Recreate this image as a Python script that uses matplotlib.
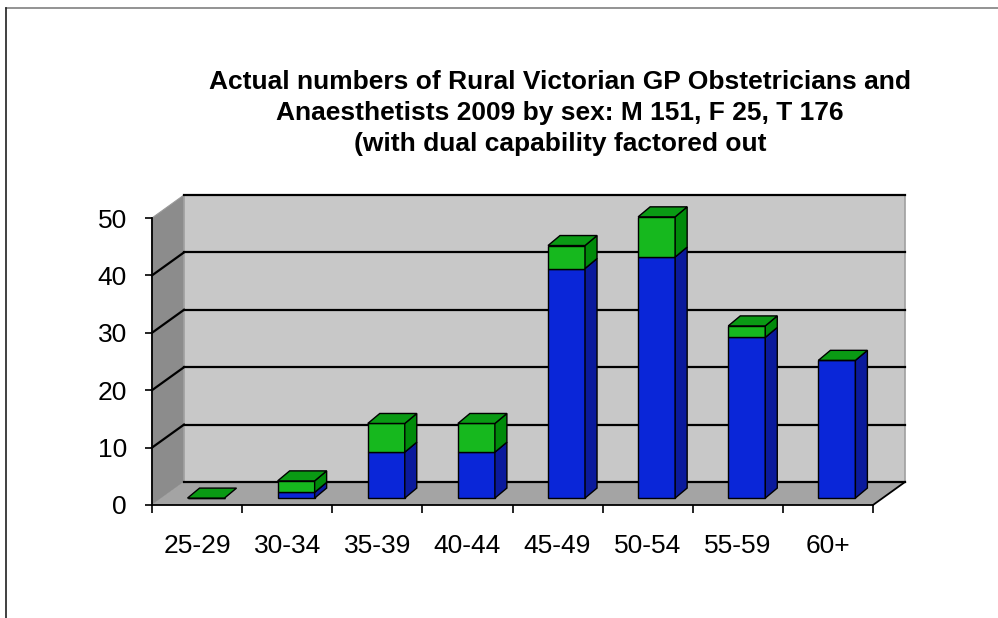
import matplotlib
matplotlib.use("Agg")
import matplotlib.pyplot as plt
from matplotlib.patches import Polygon
from matplotlib.lines import Line2D

categories = ['25-29', '30-34', '35-39', '40-44', '45-49', '50-54', '55-59', '60+']
male = [0, 1, 8, 8, 40, 42, 28, 24]
female = [0, 2, 5, 5, 4, 7, 2, 0]
y_ticks = [0, 10, 20, 30, 40, 50]
title_lines = ["Actual numbers of Rural Victorian GP Obstetricians and",
               "Anaesthetists 2009 by sex: M 151, F 25, T 176",
               "(with dual capability factored out"]

plt.rcParams['font.family'] = ['Liberation Sans', 'DejaVu Sans']

W, H = 998, 618
fig = plt.figure(figsize=(W / 100, H / 100), dpi=100)
fig.patch.set_facecolor('white')

# front plane axes
L, R, B, T = 152, 873, 505, 218
ax = fig.add_axes([L / W, (H - B) / H, (R - L) / W, (B - T) / H])
ax.set_xlim(0, 8)
ax.set_ylim(0, 50)
ax.patch.set_visible(False)

pxx = (R - L) / 8.0
pxy = (B - T) / 50.0
Dx, Dy = 32 / pxx, 23 / pxy          # full depth
ox, oy = 0.28 * Dx, 0.30 * Dy        # bar front face offset
bdx, bdy = 12 / pxx, 10 / pxy        # bar depth
bw = 37 / pxx

wall_back = '#c8c8c8'
wall_left = '#8c8c8c'
floor_c = '#a4a4a4'

# walls
ax.add_patch(Polygon([(0, 0), (0, 50), (Dx, 50 + Dy), (Dx, Dy)], closed=True,
                     facecolor=wall_left, edgecolor='#9a9a9a', lw=0.8, clip_on=False, zorder=0))
ax.add_patch(Polygon([(Dx, Dy), (8 + Dx, Dy), (8 + Dx, 50 + Dy), (Dx, 50 + Dy)], closed=True,
                     facecolor=wall_back, edgecolor='#a0a0a0', lw=1.2, clip_on=False, zorder=0))
ax.add_patch(Polygon([(0, 0), (8, 0), (8 + Dx, Dy), (Dx, Dy)], closed=True,
                     facecolor=floor_c, edgecolor='none', lw=0, clip_on=False, zorder=0))
# floor right edge
ax.add_line(Line2D([8, 8 + Dx], [0, Dy], color='black', lw=1.3, clip_on=False, zorder=1))

# gridlines
for v in y_ticks:
    ax.add_line(Line2D([Dx, 8 + Dx], [v + Dy, v + Dy], color='black', lw=1.6,
                       clip_on=False, zorder=1))
    if 0 < v < 50:
        ax.add_line(Line2D([0, Dx], [v, v + Dy], color='black', lw=1.6,
                           clip_on=False, zorder=1))

blue_f, blue_s = '#0a26d8', '#0a1a9c'
green_f, green_s, green_t = '#16b81e', '#008a0a', '#0a9a14'
ec, elw = 'black', 1.0

xs = [i + 0.5 + ox for i in range(len(categories))]
ax.bar(xs, male, width=bw, bottom=oy, color=blue_f, edgecolor=ec, linewidth=elw,
       zorder=3, clip_on=False)
ax.bar(xs, female, width=bw, bottom=[oy + m for m in male], color=green_f,
       edgecolor=ec, linewidth=elw, zorder=3, clip_on=False)

for xc, m, f in zip(xs, male, female):
    xl, xr = xc - bw / 2, xc + bw / 2
    y0, y1, y2 = oy, oy + m, oy + m + f
    if m > 0:
        ax.add_patch(Polygon([(xr, y0), (xr + bdx, y0 + bdy), (xr + bdx, y1 + bdy), (xr, y1)],
                             closed=True, facecolor=blue_s, edgecolor=ec, lw=elw,
                             zorder=3, clip_on=False))
    if f > 0:
        ax.add_patch(Polygon([(xr, y1), (xr + bdx, y1 + bdy), (xr + bdx, y2 + bdy), (xr, y2)],
                             closed=True, facecolor=green_s, edgecolor=ec, lw=elw,
                             zorder=3, clip_on=False))
    ax.add_patch(Polygon([(xl, y2), (xr, y2), (xr + bdx, y2 + bdy), (xl + bdx, y2 + bdy)],
                         closed=True, facecolor=green_t, edgecolor=ec, lw=elw,
                         zorder=4, clip_on=False))

# axes styling
for s in ['top', 'right']:
    ax.spines[s].set_visible(False)
for s in ['left', 'bottom']:
    ax.spines[s].set_color('black')
    ax.spines[s].set_linewidth(1.3)
    ax.spines[s].set_zorder(2)

ax.set_yticks(y_ticks)
ax.set_yticklabels([str(v) for v in y_ticks])
ax.tick_params(axis='y', direction='out', length=5, width=1.2, pad=13, labelsize=19)

ax.set_xticks(range(len(categories) + 1))
ax.set_xticklabels([])
ax.set_xticks([i + 0.5 for i in range(len(categories))], minor=True)
ax.set_xticklabels(categories, minor=True)
ax.tick_params(axis='x', which='major', direction='out', length=6, width=1.2)
ax.tick_params(axis='x', which='minor', length=0, pad=21, labelsize=19)

# title
centers = [560, 560, 560]
baselines = [89, 120, 151]
for line, cx, by in zip(title_lines, centers, baselines):
    fig.text(cx / W, 1 - by / H, line, ha='center', va='baseline',
             fontsize=19, fontweight='bold', color='black')

# outer frame
fig.add_artist(Line2D([6 / W, 1], [1 - 8 / H, 1 - 8 / H], color='#808080', lw=1.2,
                      transform=fig.transFigure))
fig.add_artist(Line2D([6 / W, 6 / W], [0, 1 - 8 / H], color='#202020', lw=1.2,
                      transform=fig.transFigure))

fig.savefig('out.png', dpi=100)
